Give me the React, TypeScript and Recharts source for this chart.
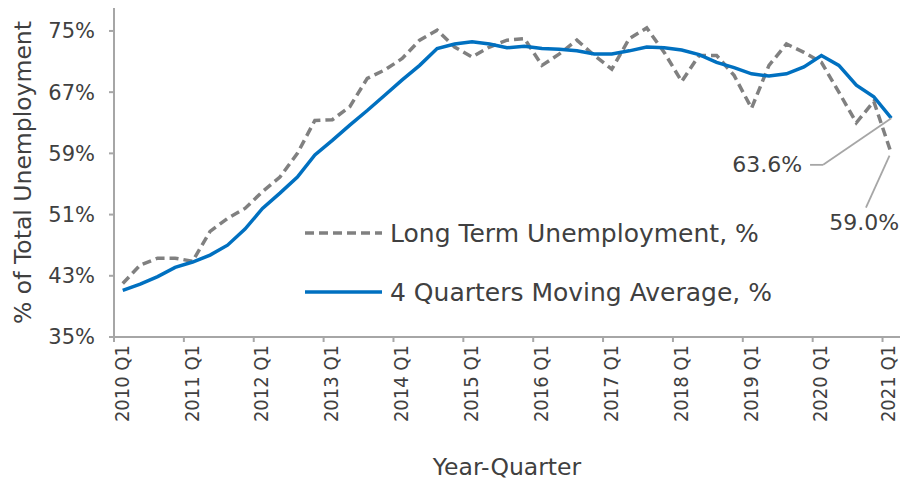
import React from 'react';
import { LineChart, Line, XAxis, YAxis, Legend, ReferenceLine, ReferenceDot } from 'recharts';

// quarterly categories, 2010 Q1 .. 2021 Q1
const categories = [
  '2010 Q1', '2010 Q2', '2010 Q3', '2010 Q4',
  '2011 Q1', '2011 Q2', '2011 Q3', '2011 Q4',
  '2012 Q1', '2012 Q2', '2012 Q3', '2012 Q4',
  '2013 Q1', '2013 Q2', '2013 Q3', '2013 Q4',
  '2014 Q1', '2014 Q2', '2014 Q3', '2014 Q4',
  '2015 Q1', '2015 Q2', '2015 Q3', '2015 Q4',
  '2016 Q1', '2016 Q2', '2016 Q3', '2016 Q4',
  '2017 Q1', '2017 Q2', '2017 Q3', '2017 Q4',
  '2018 Q1', '2018 Q2', '2018 Q3', '2018 Q4',
  '2019 Q1', '2019 Q2', '2019 Q3', '2019 Q4',
  '2020 Q1', '2020 Q2', '2020 Q3', '2020 Q4',
  '2021 Q1',
];

const longTerm = [
  42.0, 44.4, 45.3, 45.3, 44.9, 48.8, 50.5, 51.8, 54.0, 55.9, 59.0, 63.3,
  63.4, 65.1, 68.8, 69.9, 71.4, 73.8, 75.1, 72.9, 71.6, 72.9, 73.8, 74.0,
  70.5, 72.0, 73.8, 71.8, 70.0, 74.0, 75.4, 72.2, 68.4, 71.8, 71.8, 69.2,
  64.9, 70.5, 73.3, 72.2, 70.9, 67.0, 63.0, 65.8, 59.0,
];

const movingAvg = [
  41.1, 41.9, 42.9, 44.1, 44.8, 45.7, 47.0, 49.1, 51.8, 53.8, 55.9, 58.8,
  60.7, 62.7, 64.6, 66.6, 68.6, 70.5, 72.7, 73.3, 73.6, 73.3, 72.8, 73.0,
  72.7, 72.6, 72.4, 72.0, 72.0, 72.4, 72.9, 72.8, 72.5, 71.9, 70.9, 70.2,
  69.4, 69.1, 69.4, 70.3, 71.8, 70.5, 67.9, 66.4, 63.6,
];

const tickLabels = [
  '2010 Q1', '2011 Q1', '2012 Q1', '2013 Q1', '2014 Q1', '2015 Q1',
  '2016 Q1', '2017 Q1', '2018 Q1', '2019 Q1', '2020 Q1', '2021 Q1',
];

const yTicks = [35, 43, 51, 59, 67, 75];

const seriesOrder = ['longTerm', 'movingAvg'];

const W = 900;
const H = 481;
const Y_AXIS_W = 114;
const X_AXIS_H = 144;
const HALF_BAND = (W - Y_AXIS_W) / categories.length / 2;

const FONT = '"DejaVu Sans", sans-serif';
const NARROW = '"DejaVu Sans Condensed", "DejaVu Sans", sans-serif';
const TEXT = '#404040';
const AXIS = '#a6a6a6';
const GREY = '#808080';
const BLUE = '#0070c0';

const data = categories.map((q, i) => ({
  idx: i,
  quarter: q,
  longTerm: longTerm[i],
  movingAvg: movingAvg[i],
}));

const xTicks = tickLabels.map(l => categories.indexOf(l));
const last = categories.length - 1;

const dashes: Record<string, string | undefined> = {
  longTerm: '9 5',
  movingAvg: undefined,
};

// eslint-disable-next-line @typescript-eslint/no-explicit-any
const XTick = (props: any) => {
  const { x, y, payload } = props;
  const ty = y + 8;
  // keep the right-most label inside the picture
  const tx = Math.min(x, W - 11);
  return (
    <g>
      <line x1={x - HALF_BAND} x2={x - HALF_BAND} y1={y} y2={y + 5} stroke={AXIS} strokeWidth={2} />
      <text
        x={tx}
        y={ty}
        dy="0.3em"
        textAnchor="end"
        transform={`rotate(-90 ${tx} ${ty})`}
        fill={TEXT}
        style={{ fontSize: 20, fontFamily: NARROW }}
      >
        {categories[payload.value]}
      </text>
    </g>
  );
};

// eslint-disable-next-line @typescript-eslint/no-explicit-any
const YTitle = (props: any) => {
  const { viewBox } = props;
  const cx = 23;
  const cy = viewBox.y + viewBox.height / 2;
  return (
    <text
      x={cx}
      y={cy}
      transform={`rotate(-90 ${cx} ${cy})`}
      textAnchor="middle"
      dominantBaseline="central"
      fill={TEXT}
      style={{ fontSize: 23.5, fontFamily: FONT }}
    >
      % of Total Unemployment
    </text>
  );
};

// eslint-disable-next-line @typescript-eslint/no-explicit-any
const renderLegend = (props: any) => {
  const items = [...(props.payload || [])].sort(
    (a, b) => seriesOrder.indexOf(a.dataKey) - seriesOrder.indexOf(b.dataKey)
  );
  return (
    <div style={{ display: 'flex', flexDirection: 'column' }}>
      {items.map((entry: any) => (
        <div key={entry.value} style={{ display: 'flex', alignItems: 'center', height: 59 }}>
          <svg width={77} height={10}>
            <line
              x1={0}
              x2={77}
              y1={5}
              y2={5}
              stroke={entry.color}
              strokeWidth={3.5}
              strokeDasharray={dashes[entry.dataKey]}
            />
          </svg>
          <span style={{ marginLeft: 8, fontSize: 25, color: TEXT, fontFamily: FONT }}>
            {entry.value}
          </span>
        </div>
      ))}
    </div>
  );
};

const annoText = (text: string, anchor: 'start' | 'middle' | 'end') =>
  // eslint-disable-next-line @typescript-eslint/no-explicit-any
  (p: any) => (
    <text
      x={p.cx}
      y={p.cy}
      textAnchor={anchor}
      dominantBaseline="central"
      fill={TEXT}
      style={{ fontSize: 22, fontFamily: FONT }}
    >
      {text}
    </text>
  );

export default function App() {
  return (
    <div style={{ position: 'absolute', left: 0, top: 0, width: W, height: H, background: '#fff' }}>
      <LineChart
        width={W}
        height={H}
        data={data}
        margin={{ top: 8, right: 0, bottom: 0, left: 0 }}
        style={{ fontFamily: FONT }}
      >
        <XAxis
          type="number"
          dataKey="idx"
          domain={[-0.5, last + 0.5]}
          ticks={xTicks}
          interval={0}
          height={X_AXIS_H}
          tickSize={0}
          tickMargin={0}
          tickLine={false}
          tick={<XTick />}
          axisLine={{ stroke: AXIS, strokeWidth: 2 }}
          label={{
            value: 'Year-Quarter',
            position: 'insideBottom',
            offset: 6,
            fill: TEXT,
            style: { fontSize: 23.5, fontFamily: FONT },
          }}
        />
        <YAxis
          domain={[35, 78]}
          ticks={yTicks}
          interval={0}
          width={Y_AXIS_W}
          tickSize={5}
          tickMargin={14}
          tickFormatter={(v: number) => `${v}%`}
          tick={{ fill: TEXT, fontSize: 21, fontFamily: FONT }}
          tickLine={{ stroke: AXIS, strokeWidth: 2 }}
          axisLine={{ stroke: AXIS, strokeWidth: 2 }}
          allowDataOverflow
          label={<YTitle />}
        />
        <Legend
          layout="vertical"
          align="center"
          verticalAlign="middle"
          wrapperStyle={{ left: 305, top: 203.5, width: 'auto' }}
          content={renderLegend}
        />
        <Line
          type="linear"
          dataKey="longTerm"
          name="Long Term Unemployment, %"
          stroke={GREY}
          strokeWidth={3.5}
          strokeDasharray="9 5"
          dot={false}
          isAnimationActive={false}
        />
        <Line
          type="linear"
          dataKey="movingAvg"
          name="4 Quarters Moving Average, %"
          stroke={BLUE}
          strokeWidth={3.5}
          dot={false}
          isAnimationActive={false}
        />
        {/* leader lines for the end-point callouts */}
        <ReferenceLine
          segment={[{ x: last, y: movingAvg[last] }, { x: 40.1, y: 57.5 }]}
          stroke={AXIS}
          strokeWidth={1.8}
          ifOverflow="visible"
        />
        <ReferenceLine
          segment={[{ x: 40.1, y: 57.5 }, { x: 39.35, y: 57.5 }]}
          stroke={AXIS}
          strokeWidth={1.8}
          ifOverflow="visible"
        />
        <ReferenceLine
          segment={[{ x: 43.9, y: 58.7 }, { x: 42.55, y: 51.9 }]}
          stroke={AXIS}
          strokeWidth={1.8}
          ifOverflow="visible"
        />
        <ReferenceDot
          x={38.9}
          y={57.5}
          r={0}
          ifOverflow="visible"
          shape={annoText(`${movingAvg[last].toFixed(1)}%`, 'end')}
        />
        <ReferenceDot
          x={42.45}
          y={49.9}
          r={0}
          ifOverflow="visible"
          shape={annoText(`${longTerm[last].toFixed(1)}%`, 'middle')}
        />
      </LineChart>
    </div>
  );
}
